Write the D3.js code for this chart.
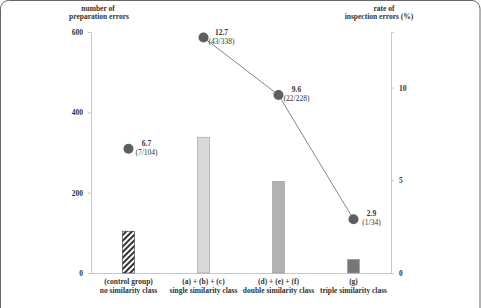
<!doctype html>
<html>
<head>
  <script src="https://cdnjs.cloudflare.com/ajax/libs/d3/7.8.5/d3.min.js"></script>
  <style>
    body { margin: 0; background: #fff; }
  </style>
</head>
<body>
<svg id="chart" width="481" height="308" font-family="'Liberation Serif', 'DejaVu Serif', serif" font-weight="bold"></svg>
<script>
// data
const categories = ["(control group)|no similarity class", "(a) + (b) + (c)|single similarity class",
                    "(d) + (e) + (f)|double similarity class", "(g)|triple similarity class"];
const prepErrors = [104, 338, 228, 34];
const inspectErrors = [7, 43, 22, 1];
const inspectRate = [6.7, 12.7, 9.6, 2.9];
const barColors = ["url(#hatch)", "#d9d9d9", "#b2b2b2", "#777777"];
const leftTicks = [0, 200, 400, 600];
const rightTicks = [0, 5, 10];

const svg = d3.select("#chart");
const ink = "#333";

// frame
svg.append("rect")
  .attr("x", 0.5).attr("y", 0.5)
  .attr("width", 479.5).attr("height", 330)
  .attr("rx", 8)
  .attr("fill", "none")
  .attr("stroke", "#666");

const defs = svg.append("defs");
const pat = defs.append("pattern")
  .attr("id", "hatch")
  .attr("patternUnits", "userSpaceOnUse")
  .attr("width", 4).attr("height", 4)
  .attr("patternTransform", "rotate(45)");
pat.append("rect").attr("width", 4).attr("height", 4).attr("fill", "#fff");
pat.append("rect").attr("width", 2).attr("height", 4).attr("fill", "#333");

const x = d3.scaleBand().domain(d3.range(categories.length)).range([91, 391]);
const yL = d3.scaleLinear().domain([0, 600]).range([273, 32]);
const yR = d3.scaleLinear().domain([0, 13]).range([273, 32]);

// axes
const leftAxis = d3.axisLeft(yL).tickValues(leftTicks).tickSize(3).tickPadding(5);
const gL = svg.append("g").attr("transform", "translate(91,0)").call(leftAxis);
const rightAxis = d3.axisRight(yR).tickValues(rightTicks).tickSize(3).tickPadding(5);
const gR = svg.append("g").attr("transform", "translate(391,0)").call(rightAxis);
[gL, gR].forEach(g => {
  g.attr("font-family", null).attr("font-size", null);
  g.select(".domain").attr("stroke", "#c8c8c8");
  g.selectAll(".tick line").attr("stroke", "#c8c8c8");
  g.selectAll(".tick text").attr("font-size", 7.5).attr("fill", ink);
});
svg.append("line")
  .attr("x1", 91).attr("x2", 391)
  .attr("y1", yL(0) + 0.5).attr("y2", yL(0) + 0.5)
  .attr("stroke", "#c8c8c8");

// axis titles
const titles = [
  { t: "number of", x: 98, y: 11 },
  { t: "preparation errors", x: 99, y: 19 },
  { t: "rate of", x: 384, y: 11 },
  { t: "inspection errors (%)", x: 379, y: 19 }
];
svg.selectAll("text.title")
  .data(titles)
  .enter()
  .append("text")
  .attr("class", "title")
  .attr("x", d => d.x).attr("y", d => d.y)
  .attr("text-anchor", "middle")
  .attr("font-size", 7.5)
  .attr("fill", ink)
  .text(d => d.t);

// bars
const bw = 12;
svg.selectAll("rect.bar")
  .data(prepErrors)
  .enter()
  .append("rect")
  .attr("class", "bar")
  .attr("x", (d, i) => x(i) + x.bandwidth() / 2 - bw / 2)
  .attr("y", d => yL(d))
  .attr("width", bw)
  .attr("height", d => yL(0) - yL(d))
  .attr("fill", (d, i) => barColors[i])
  .attr("stroke", (d, i) => i === 0 ? "#333" : "#999")
  .attr("stroke-width", 0.6);

// line (groups with similarity only)
const cx = i => x(i) + x.bandwidth() / 2;
const line = d3.line().x(d => cx(d.i)).y(d => yR(d.v));
svg.append("path")
  .datum(inspectRate.map((v, i) => ({ v, i })).slice(1))
  .attr("d", line)
  .attr("fill", "none")
  .attr("stroke", "#888")
  .attr("stroke-width", 1);

svg.selectAll("circle.rate")
  .data(inspectRate)
  .enter()
  .append("circle")
  .attr("class", "rate")
  .attr("r", 5)
  .attr("cx", (d, i) => cx(i))
  .attr("cy", d => yR(d))
  .attr("fill", "#5f5f5f");

svg.selectAll("text.rateval")
  .data(inspectRate)
  .enter()
  .append("text")
  .attr("class", "rateval")
  .attr("x", (d, i) => cx(i) + 18)
  .attr("y", d => yR(d) - 3)
  .attr("text-anchor", "middle")
  .attr("font-size", 7.5)
  .attr("fill", ink)
  .text(d => d.toFixed(1));

svg.selectAll("text.ratefrac")
  .data(inspectRate)
  .enter()
  .append("text")
  .attr("class", "ratefrac")
  .attr("x", (d, i) => cx(i) + 18)
  .attr("y", d => yR(d) + 6)
  .attr("text-anchor", "middle")
  .attr("font-size", 7.5)
  .attr("font-weight", "normal")
  .attr("fill", ink)
  .text((d, i) => "(" + inspectErrors[i] + "/" + prepErrors[i] + ")");

// category labels
categories.forEach((c, i) => {
  c.split("|").forEach((p, j) => {
    svg.append("text")
      .attr("x", cx(i))
      .attr("y", 284 + j * 9)
      .attr("text-anchor", "middle")
      .attr("font-size", 7.5)
      .attr("fill", ink)
      .text(p);
  });
});
</script>
</body>
</html>
